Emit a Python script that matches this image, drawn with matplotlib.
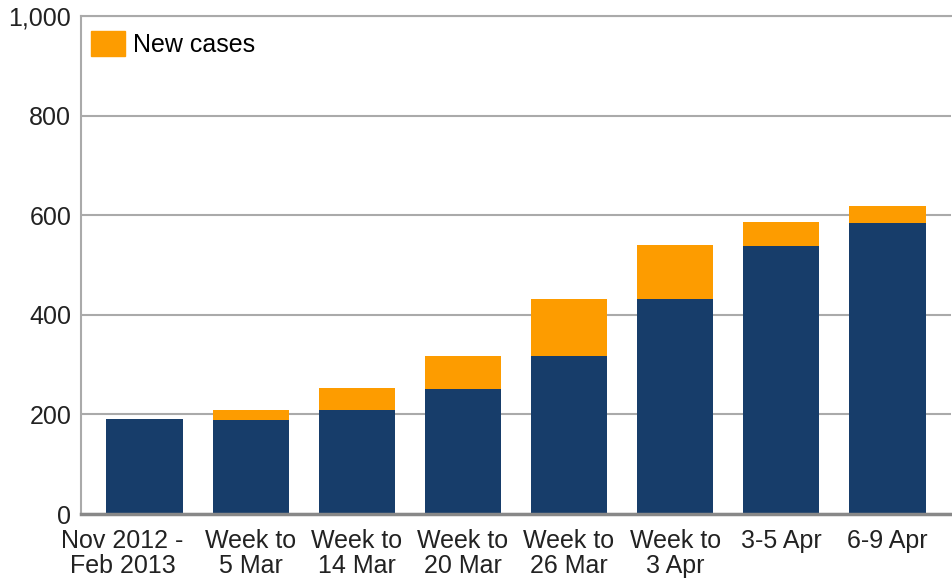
import matplotlib
matplotlib.use("Agg")
import matplotlib.pyplot as plt
import matplotlib.transforms as mtrans
import numpy as np
from matplotlib.patches import Patch

categories = ["Nov 2012 -\nFeb 2013", "Week to\n5 Mar", "Week to\n14 Mar", "Week to\n20 Mar",
              "Week to\n26 Mar", "Week to\n3 Apr", "3-5 Apr", "6-9 Apr"]
previous_cases = [190, 189, 209, 251, 318, 431, 539, 585]
new_cases = [0, 20, 44, 67, 113, 110, 48, 34]
yticks = [0, 200, 400, 600, 800, 1000]
ytick_labels = ["0", "200", "400", "600", "800", "1,000"]

plt.rcParams['font.family'] = ['Liberation Sans', 'DejaVu Sans']

fig = plt.figure(figsize=(9.52, 5.84), dpi=100)
ax = fig.add_axes([81/952, 1 - 514/584, (951-81)/952, (514-16)/584])

x = np.arange(len(categories))
navy = "#173d6a"
orange = "#fd9c00"
ax.bar(x, previous_cases, width=0.72, color=navy, zorder=3)
ax.bar(x, new_cases, width=0.72, bottom=previous_cases, color=orange, zorder=3)

ax.set_xlim(-0.6, 7.6)
ax.set_ylim(0, 1000)
ax.set_yticks(yticks)
ax.set_yticklabels(ytick_labels, fontsize=18, color="#222222")
ax.set_xticks(x)
ax.set_xticklabels(categories, fontsize=18, color="#222222", linespacing=1.05)
ax.tick_params(axis="both", length=0)
ax.tick_params(axis="y", pad=7)
ax.tick_params(axis="x", pad=11)

# first label sits a little left of its bar in the reference
lbl0 = ax.get_xticklabels()[0]
lbl0.set_transform(lbl0.get_transform() + mtrans.ScaledTranslation(-0.22, 0, fig.dpi_scale_trans))

ax.yaxis.grid(True, color="#aaaaaa", linewidth=1.5, zorder=0)
ax.set_axisbelow(True)
ax.spines["right"].set_visible(False)
ax.spines["top"].set_color("#aaaaaa")
ax.spines["top"].set_linewidth(1.5)
ax.spines["left"].set_color("#aaaaaa")
ax.spines["left"].set_linewidth(1.5)
ax.spines["bottom"].set_color("#888888")
ax.spines["bottom"].set_linewidth(2.5)
ax.spines["bottom"].set_zorder(4)

leg = ax.legend(handles=[Patch(color=orange, label="New cases")], loc="upper left",
                frameon=False, fontsize=18, handlelength=1.36, handleheight=1.15,
                handletextpad=0.32, borderpad=0.1, borderaxespad=0.3,
                bbox_to_anchor=(0.0, 0.99))

fig.savefig("out.png", dpi=100)
